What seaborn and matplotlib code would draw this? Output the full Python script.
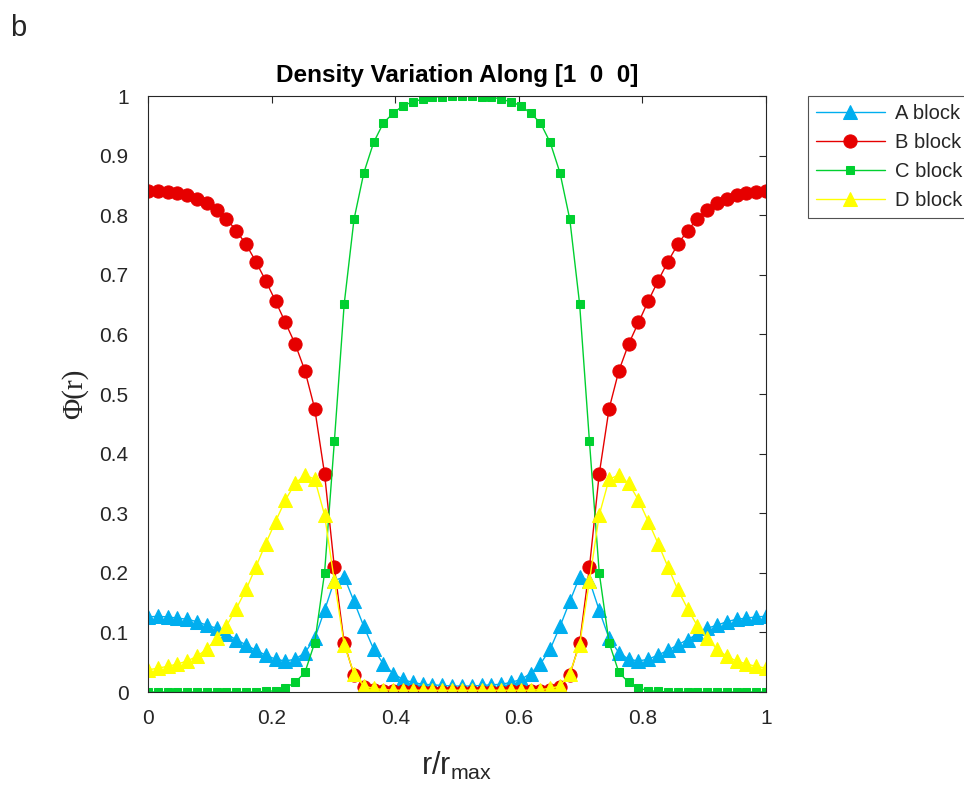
import numpy as np
import pandas as pd
import matplotlib
matplotlib.use("Agg")
import matplotlib.pyplot as plt
import seaborn as sns

# r/r_max sample positions: 64 points from 0 to 1
r = np.linspace(0, 1, 64)

A_block = [0.126, 0.127, 0.126, 0.124, 0.122, 0.118, 0.112, 0.107, 0.097, 0.088,
           0.079, 0.070, 0.062, 0.055, 0.052, 0.055, 0.066, 0.090, 0.137, 0.187,
           0.193, 0.152, 0.110, 0.072, 0.047, 0.031, 0.021, 0.016, 0.013, 0.012,
           0.011, 0.010, 0.010,
           0.010, 0.011, 0.012, 0.013, 0.016, 0.021, 0.031, 0.047, 0.072, 0.110,
           0.152, 0.193, 0.187, 0.137, 0.090, 0.066, 0.055, 0.052, 0.055, 0.062,
           0.070, 0.079, 0.088, 0.097, 0.107, 0.112, 0.118, 0.122, 0.124, 0.126,
           0.127]

B_block = [0.840, 0.840, 0.839, 0.837, 0.834, 0.828, 0.820, 0.809, 0.794, 0.774,
           0.751, 0.722, 0.690, 0.656, 0.620, 0.584, 0.539, 0.475, 0.366, 0.209,
           0.082, 0.029, 0.009, 0.004, 0.002, 0.001, 0.001, 0.001, 0.000, 0.000,
           0.000, 0.000, 0.000,
           0.000, 0.000, 0.000, 0.000, 0.001, 0.001, 0.001, 0.002, 0.004, 0.009,
           0.029, 0.082, 0.209, 0.366, 0.475, 0.539, 0.584, 0.620, 0.656, 0.690,
           0.722, 0.751, 0.774, 0.794, 0.809, 0.820, 0.828, 0.834, 0.837, 0.839,
           0.840]

C_block = [0.000, 0.000, 0.000, 0.000, 0.000, 0.000, 0.000, 0.000, 0.000, 0.000,
           0.000, 0.000, 0.001, 0.002, 0.007, 0.016, 0.033, 0.083, 0.200, 0.421,
           0.651, 0.793, 0.871, 0.922, 0.955, 0.971, 0.984, 0.990, 0.995, 0.998,
           0.999, 1.000, 1.000,
           1.000, 0.999, 0.998, 0.995, 0.990, 0.984, 0.971, 0.955, 0.922, 0.871,
           0.793, 0.651, 0.421, 0.200, 0.083, 0.033, 0.016, 0.007, 0.002, 0.001,
           0.000, 0.000, 0.000, 0.000, 0.000, 0.000, 0.000, 0.000, 0.000, 0.000,
           0.000]

D_block = [0.037, 0.040, 0.043, 0.047, 0.052, 0.060, 0.072, 0.090, 0.111, 0.140,
           0.172, 0.210, 0.249, 0.286, 0.322, 0.350, 0.364, 0.357, 0.297, 0.186,
           0.079, 0.031, 0.010, 0.006, 0.004, 0.003, 0.003, 0.003, 0.003, 0.003,
           0.003, 0.003, 0.003,
           0.003, 0.003, 0.003, 0.003, 0.003, 0.003, 0.003, 0.004, 0.006, 0.010,
           0.031, 0.079, 0.186, 0.297, 0.357, 0.364, 0.350, 0.322, 0.286, 0.249,
           0.210, 0.172, 0.140, 0.111, 0.090, 0.072, 0.060, 0.052, 0.047, 0.043,
           0.040]

labels = ["A block", "B block", "C block", "D block"]
x_ticks = [0, 0.2, 0.4, 0.6, 0.8, 1]
x_ticklabels = ["0", "0.2", "0.4", "0.6", "0.8", "1"]
y_ticks = [0, 0.1, 0.2, 0.3, 0.4, 0.5, 0.6, 0.7, 0.8, 0.9, 1]
y_ticklabels = ["0", "0.1", "0.2", "0.3", "0.4", "0.5", "0.6", "0.7", "0.8", "0.9", "1"]

sns.set_style("white")
plt.rcParams["font.family"] = ["Liberation Sans", "DejaVu Sans"]
plt.rcParams["mathtext.fontset"] = "custom"
plt.rcParams["mathtext.rm"] = "Liberation Sans"
plt.rcParams["mathtext.it"] = "Liberation Sans"

fig = plt.figure(figsize=(9.64, 7.87), dpi=100)
ax = fig.add_axes([148 / 964, 1 - 692 / 787, 618 / 964, 596 / 787])

styles = [
    dict(color="#00AEEF", marker="^", markersize=10, lw=1.0),
    dict(color="#E60000", marker="o", markersize=9.5, lw=1.0),
    dict(color="#00D030", marker="s", markersize=6, lw=1.0),
    dict(color="#FFFF00", marker="^", markersize=10, lw=1.0),
]
series = [A_block, B_block, C_block, D_block]

for lab, vals, st in zip(labels, series, styles):
    df = pd.DataFrame({"r": r, "phi": vals})
    sns.lineplot(data=df, x="r", y="phi", ax=ax, label=lab, color=st["color"],
                 marker=st["marker"], markersize=st["markersize"],
                 markeredgecolor=st["color"], markerfacecolor=st["color"],
                 linewidth=st["lw"], estimator=None, sort=False)

ax.set_xlim(0, 1)
ax.set_ylim(0, 1)
ax.set_xticks(x_ticks)
ax.set_xticklabels(x_ticklabels)
ax.set_yticks(y_ticks)
ax.set_yticklabels(y_ticklabels)
ax.tick_params(direction="in", top=True, right=True, length=5, width=0.8,
               labelsize=15, colors="#262626")
ax.tick_params(axis="x", pad=12)
ax.tick_params(axis="y", pad=14)
for s in ax.spines.values():
    s.set_visible(True)
    s.set_color("#262626")
    s.set_linewidth(0.8)

ax.set_title("Density Variation Along [1  0  0]", fontsize=17.5, fontweight="bold",
             color="#000000", pad=10)
ax.set_xlabel(r"r/r$_{\mathrm{max}}$", fontsize=22, color="#262626", labelpad=16)
ax.set_ylabel("Φ(r)", fontsize=21, color="#262626", family=["Liberation Serif", "DejaVu Serif"],
              labelpad=8)

leg = ax.legend(loc="upper left", bbox_to_anchor=(1.068, 1.0), frameon=True,
                fontsize=14.5, handlelength=3.4, borderpad=0.4, labelspacing=0.5,
                handletextpad=0.5, borderaxespad=0.0, fancybox=False)
leg.get_frame().set_edgecolor("#262626")
leg.get_frame().set_linewidth(0.8)

fig.text(10 / 964, 1 - 28 / 787, "b", fontsize=21, va="center", ha="left")

fig.savefig("out.png", dpi=100)
